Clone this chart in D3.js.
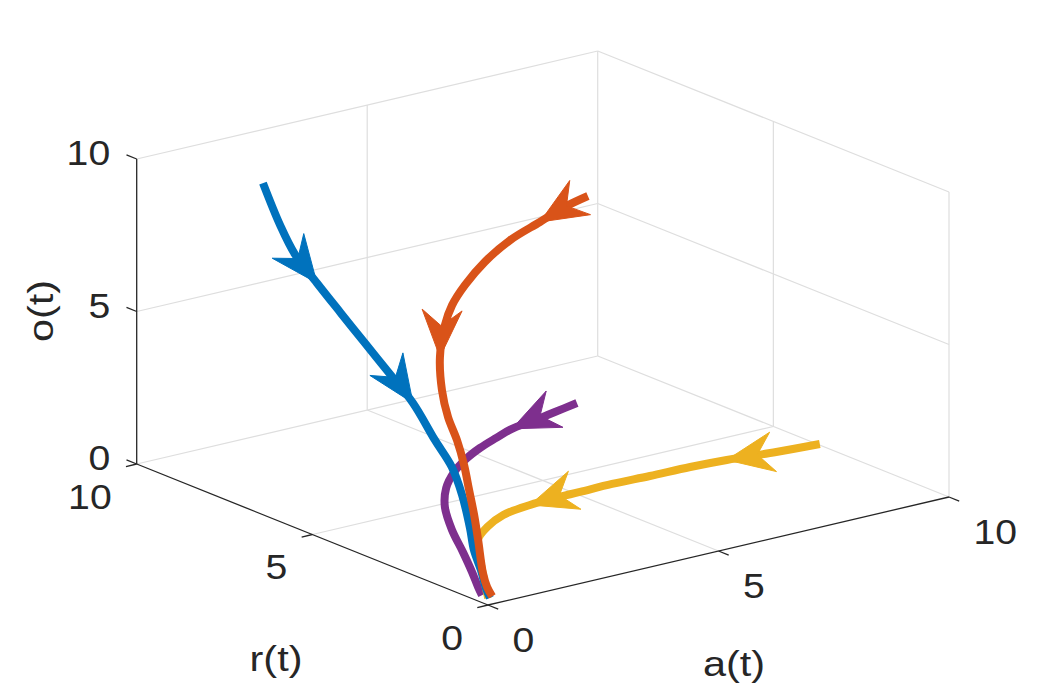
<!DOCTYPE html>
<html>
<head>
<meta charset="utf-8">
<script src="https://cdn.jsdelivr.net/npm/d3@7"></script>
<style>
  body { margin: 0; background: #fff; }
  text { font-family: Arial, "Liberation Sans", Helvetica, sans-serif; fill: #262626; }
</style>
</head>
<body>
<div class="phase"></div>
<script>
// axis ticks
var tickVals = [0, 5, 10];
var tickText = ["0", "5", "10"];
var axisTitles = ["a(t)", "r(t)", "o(t)"];

// trajectories (a, r, o)
var blueA = [2.0, 1.8, 1.7, 1.6, 1.45, 1.3, 1.2, 1.1, 0.95, 0.8, 0.65, 0.5, 0.35, 0.22, 0.1, 0.05];
var blueR = [9.03, 8.28, 7.73, 6.97, 6.09, 5.21, 4.39, 3.58, 2.76, 2.08, 1.59, 1.17, 0.86, 0.49, 0.19, 0.01];
var blueO = [8.95, 7.99, 7.33, 6.77, 6.24, 5.72, 5.15, 4.58, 3.80, 3.28, 2.64, 1.81, 1.28, 0.84, 0.43, 0.21];
var blueArrows = [3, 7];

var orangeA = [6.0, 5.5, 4.8, 4.0, 3.3, 2.7, 2.3, 2.0, 1.8, 1.6, 1.45, 1.3, 1.15, 1.0, 0.85, 0.7, 0.5, 0.4, 0.35];
var orangeR = [5.03, 5.03, 4.82, 4.62, 4.42, 4.20, 4.04, 3.85, 3.73, 3.41, 3.04, 2.59, 2.19, 1.85, 1.51, 1.20, 0.80, 0.55, 0.34];
var orangeO = [8.96, 8.78, 8.63, 8.41, 8.04, 7.59, 7.15, 6.69, 5.77, 4.90, 4.24, 3.75, 3.17, 2.56, 1.95, 1.33, 0.50, 0.19, 0.0];
var orangeArrows = [2, 8];

var yellowA = [10.04, 9.17, 8.22, 7.48, 6.62, 5.83, 5.12, 4.57, 3.99, 3.28, 2.65, 2.08, 1.43, 0.80, 0.24];
var yellowR = [3.73, 3.83, 3.99, 4.06, 4.08, 4.12, 4.10, 4.09, 4.04, 3.87, 3.50, 3.02, 2.10, 1.16, 0.31];
var yellowO = [0, 0, 0, 0, 0, 0, 0, 0, 0, 0, 0, 0, 0, 0, 0];
var yellowArrows = [2, 8];

var purpleA = [5.0, 4.4, 3.8, 3.3, 2.7, 2.1, 1.7, 1.4, 1.15, 1.0, 0.85, 0.7, 0.5, 0.35, 0.25];
var purpleR = [4.03, 3.87, 3.71, 3.65, 3.32, 2.98, 2.86, 2.80, 2.70, 2.54, 2.14, 1.63, 1.11, 0.74, 0.5];
var purpleO = [2.99, 2.98, 2.97, 2.92, 2.98, 3.03, 2.86, 2.57, 2.18, 1.69, 1.17, 0.73, 0.39, 0.12, 0.0];
var purpleArrows = [3];

var width = 1047, height = 688;

// projected box: origin corner, end of a axis, end of r axis, height of o axis
var origin = [488, 605], aEnd = [949, 497], rEnd = [136.7, 464], zHeight = 305;

var aScale = d3.scaleLinear().domain([0, 10]).range([0, 1]);
var rScale = d3.scaleLinear().domain([0, 10]).range([0, 1]);
var oScale = d3.scaleLinear().domain([0, 10]).range([0, 1]);

function proj(a, r, o) {
  var u = aScale(a), v = rScale(r), w = oScale(o);
  return [origin[0] + u * (aEnd[0] - origin[0]) + v * (rEnd[0] - origin[0]),
          origin[1] + u * (aEnd[1] - origin[1]) + v * (rEnd[1] - origin[1]) - w * zHeight];
}

var svg = d3.select(".phase").append("svg")
  .attr("width", width)
  .attr("height", height);

var lo = aScale.domain()[0], hi = aScale.domain()[1];

// grid lines on the floor and the two back walls
var grid = [];
tickVals.forEach(function(t) {
  if (t > lo) {
    grid.push([proj(t, lo, lo), proj(t, hi, lo)]);     // floor a = t
    grid.push([proj(lo, t, lo), proj(hi, t, lo)]);     // floor r = t
    grid.push([proj(lo, hi, t), proj(hi, hi, t)]);     // back wall o = t
    grid.push([proj(t, hi, lo), proj(t, hi, hi)]);     // back wall a = t
    grid.push([proj(hi, lo, t), proj(hi, hi, t)]);     // side wall o = t
  }
  if (t < hi) grid.push([proj(hi, t, lo), proj(hi, t, hi)]);  // side wall r = t
});

svg.append("g").attr("class", "grid")
  .selectAll("line").data(grid).enter().append("line")
  .attr("x1", d => d[0][0]).attr("y1", d => d[0][1])
  .attr("x2", d => d[1][0]).attr("y2", d => d[1][1])
  .attr("stroke", "#dedede")
  .attr("stroke-width", 1.2);

// black axis lines
var axes = [
  [proj(lo, lo, lo), proj(hi, lo, lo)],
  [proj(lo, lo, lo), proj(lo, hi, lo)],
  [proj(lo, hi, lo), proj(lo, hi, hi)]
];
svg.append("g").attr("class", "axes")
  .selectAll("line").data(axes).enter().append("line")
  .attr("x1", d => d[0][0]).attr("y1", d => d[0][1])
  .attr("x2", d => d[1][0]).attr("y2", d => d[1][1])
  .attr("stroke", "#262626")
  .attr("stroke-width", 1.3);

// tick directions
function unit(p, q) {
  var dx = q[0] - p[0], dy = q[1] - p[1], n = Math.hypot(dx, dy);
  return [dx / n, dy / n];
}
var aDir = unit(origin, aEnd), rDir = unit(origin, rEnd);
var tickLen = 11;

var tickG = svg.append("g").attr("class", "ticks");
var fs = 35, stretch = 1.12;

function label(g, x, y, txt, anchor, size, sx) {
  g.append("text")
    .attr("transform", "translate(" + x + "," + y + ") scale(" + sx + ",1)")
    .attr("text-anchor", anchor)
    .attr("font-size", size)
    .text(txt);
}

tickVals.forEach(function(t, i) {
  // a axis: ticks point away from r
  var p = proj(t, lo, lo);
  tickG.append("line").attr("x1", p[0]).attr("y1", p[1])
    .attr("x2", p[0] - rDir[0] * tickLen).attr("y2", p[1] - rDir[1] * tickLen)
    .attr("stroke", "#262626").attr("stroke-width", 1.3);
  label(tickG, p[0] + 24.5, p[1] + 34 + fs * 0.358, tickText[i], "start", fs, stretch);

  // r axis: ticks point away from a
  p = proj(lo, t, lo);
  tickG.append("line").attr("x1", p[0]).attr("y1", p[1])
    .attr("x2", p[0] - aDir[0] * tickLen).attr("y2", p[1] - aDir[1] * tickLen)
    .attr("stroke", "#262626").attr("stroke-width", 1.3);
  label(tickG, p[0] - 25, p[1] + 32 + fs * 0.358, tickText[i], "end", fs, stretch);

  // o axis: ticks continue the r direction
  p = proj(lo, hi, t);
  tickG.append("line").attr("x1", p[0]).attr("y1", p[1])
    .attr("x2", p[0] + rDir[0] * tickLen).attr("y2", p[1] + rDir[1] * tickLen)
    .attr("stroke", "#262626").attr("stroke-width", 1.3);
  label(tickG, p[0] - 26.5, p[1] - 6.5 + fs * 0.358, tickText[i], "end", fs, stretch);
});

// axis titles
var tfs = 36;
label(svg, 734, 676, axisTitles[0], "middle", tfs, 1.15);
label(svg, 276, 671, axisTitles[1], "middle", tfs, 1.15);
svg.append("text")
  .attr("transform", "translate(53,311) rotate(-90) scale(1.15,1)")
  .attr("text-anchor", "middle")
  .attr("font-size", tfs)
  .text(axisTitles[2]);

// trajectories
var series = [
  {a: purpleA, r: purpleR, o: purpleO, arrows: purpleArrows, color: "#7E2F8E"},
  {a: yellowA, r: yellowR, o: yellowO, arrows: yellowArrows, color: "#EDB120"},
  {a: blueA,   r: blueR,   o: blueO,   arrows: blueArrows,   color: "#0072BD"},
  {a: orangeA, r: orangeR, o: orangeO, arrows: orangeArrows, color: "#D95319"}
];

var line = d3.line().curve(d3.curveCatmullRom.alpha(0.5));
var headLen = 47, headHalf = 20, notch = 31;

series.forEach(function(s) {
  var pts = s.a.map((v, i) => proj(v, s.r[i], s.o[i]));
  var g = svg.append("g");
  g.append("path")
    .attr("d", line(pts))
    .attr("fill", "none")
    .attr("stroke", s.color)
    .attr("stroke-width", 8)
    .attr("stroke-linecap", "butt")
    .attr("stroke-linejoin", "round");

  s.arrows.forEach(function(k) {
    var tip = pts[k], d = unit(pts[k - 1], pts[k + 1]);
    var n = [-d[1], d[0]];
    var b1 = [tip[0] - d[0] * headLen + n[0] * headHalf, tip[1] - d[1] * headLen + n[1] * headHalf];
    var b2 = [tip[0] - d[0] * headLen - n[0] * headHalf, tip[1] - d[1] * headLen - n[1] * headHalf];
    var nc = [tip[0] - d[0] * notch, tip[1] - d[1] * notch];
    g.append("path")
      .attr("d", "M" + [tip, b1, nc, b2].map(p => p.join(",")).join("L") + "Z")
      .attr("fill", s.color)
      .attr("stroke", s.color)
      .attr("stroke-width", 1);
  });
});
</script>
</body>
</html>
